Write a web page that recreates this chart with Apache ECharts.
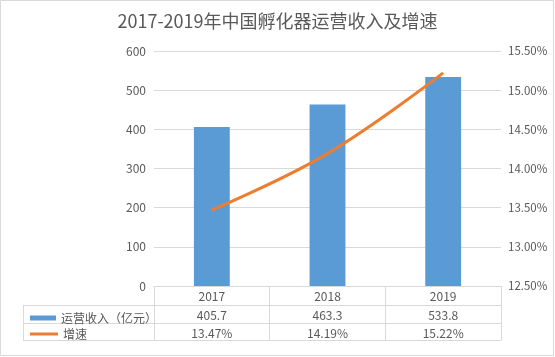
<!DOCTYPE html>
<html>
<head>
<meta charset="utf-8">
<script src="https://cdn.jsdelivr.net/npm/echarts@6/dist/echarts.min.js"></script>
<style>html,body{margin:0;padding:0;background:#fff}#c{width:555px;height:357px}</style>
</head>
<body>
<div id="c"></div>
<script>
var categories = ['2017', '2018', '2019'];
var revenue = [405.7, 463.3, 533.8];
var growth = [13.47, 14.19, 15.22];
var revenueName = '运营收入（亿元）';
var growthName = '增速';
var titleText = '2017-2019年中国孵化器运营收入及增速';

var FONT = '"Noto Sans CJK SC", "Noto Sans", sans-serif';
var TXT = '#595959';
var GRID = '#d9d9d9';

var chart = echarts.init(document.getElementById('c'), null, {renderer: 'canvas'});

function tableAxis(offset, labels, showTicks) {
  return {
    type: 'category',
    data: categories,
    position: 'bottom',
    offset: offset,
    axisLine: {show: true, lineStyle: {color: GRID, width: 1}},
    axisTick: {show: !!showTicks, alignWithLabel: false, length: 54, lineStyle: {color: GRID}},
    axisLabel: {
      show: !!labels,
      margin: 4,
      color: TXT,
      fontSize: 12,
      fontFamily: FONT,
      formatter: function (v, i) { return labels ? labels[i] : ''; }
    },
    splitLine: {show: false}
  };
}

var option = {
  animation: false,
  backgroundColor: '#fff',
  textStyle: {fontFamily: FONT},
  title: {
    text: titleText,
    left: 'center',
    top: 7,
    textStyle: {fontSize: 18, fontWeight: 'normal', color: TXT, fontFamily: FONT}
  },
  legend: [
    {
      data: [revenueName],
      left: 25, top: 307,
      itemWidth: 26, itemHeight: 5, itemGap: 4,
      icon: 'rect',
      textStyle: {color: TXT, fontSize: 12, fontFamily: FONT},
      selectedMode: false
    },
    {
      data: [growthName],
      left: 25, top: 323,
      itemWidth: 28, itemHeight: 3, itemGap: 4,
      icon: 'rect',
      textStyle: {color: TXT, fontSize: 12, fontFamily: FONT},
      selectedMode: false
    }
  ],
  grid: {left: 154, right: 54, top: 51, bottom: 71, containLabel: false},
  xAxis: [
    tableAxis(0, categories, true),
    tableAxis(19, revenue.map(function (v) { return v.toFixed(1); }), false),
    tableAxis(37, growth.map(function (v) { return v.toFixed(2) + '%'; }), false),
    tableAxis(54, null, false)
  ],
  yAxis: [
    {
      type: 'value', min: 0, max: 600, interval: 100,
      axisLine: {show: false}, axisTick: {show: false},
      axisLabel: {color: TXT, fontSize: 12, fontFamily: FONT, margin: 8},
      splitLine: {lineStyle: {color: GRID, width: 1}}
    },
    {
      type: 'value', min: 12.5, max: 15.5, interval: 0.5,
      axisLine: {show: false}, axisTick: {show: false},
      axisLabel: {color: TXT, fontSize: 11.5, fontFamily: FONT, margin: 7,
        formatter: function (v) { return v.toFixed(2) + '%'; }},
      splitLine: {show: false}
    }
  ],
  series: [
    {
      name: revenueName,
      type: 'bar',
      xAxisIndex: 0, yAxisIndex: 0,
      data: revenue,
      barWidth: '31%',
      itemStyle: {color: '#5B9BD5'}
    },
    {
      name: growthName,
      type: 'line',
      xAxisIndex: 0, yAxisIndex: 1,
      data: growth,
      smooth: 0.4,
      showSymbol: false,
      symbol: 'none',
      lineStyle: {color: '#ED7D31', width: 3},
      itemStyle: {color: '#ED7D31'}
    }
  ],
  graphic: [
    {type: 'rect', shape: {x: 0.5, y: 0.5, width: 553, height: 355}, style: {fill: 'none', stroke: GRID, lineWidth: 1}, silent: true, z: -1},
    {type: 'line', shape: {x1: 23, y1: 305.5, x2: 154, y2: 305.5}, style: {stroke: GRID, lineWidth: 1}, silent: true},
    {type: 'line', shape: {x1: 23, y1: 323.5, x2: 154, y2: 323.5}, style: {stroke: GRID, lineWidth: 1}, silent: true},
    {type: 'line', shape: {x1: 23, y1: 340.5, x2: 154, y2: 340.5}, style: {stroke: GRID, lineWidth: 1}, silent: true},
    {type: 'line', shape: {x1: 23.5, y1: 305, x2: 23.5, y2: 341}, style: {stroke: GRID, lineWidth: 1}, silent: true}
  ]
};
chart.setOption(option);
</script>
</body>
</html>
